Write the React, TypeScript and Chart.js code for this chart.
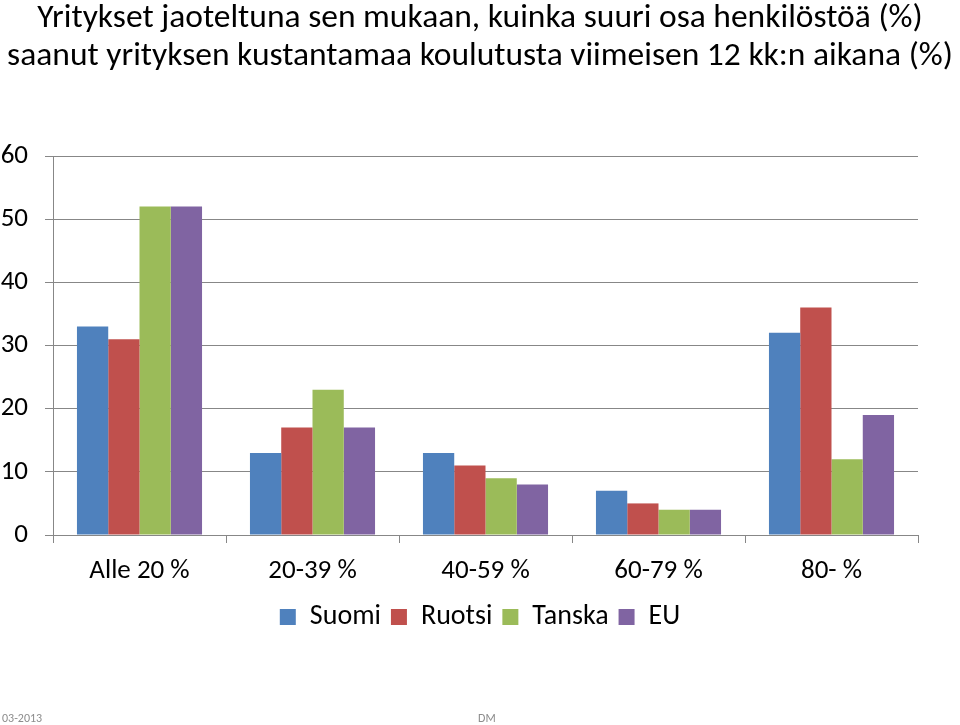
import React, { useEffect, useRef } from "react";
import { Chart, registerables } from "chart.js";

Chart.register(...registerables);

const titleLines = [
  "Yritykset jaoteltuna sen mukaan, kuinka suuri osa henkilöstöä (%)",
  "saanut yrityksen kustantamaa koulutusta viimeisen 12 kk:n aikana (%)",
];
const categories = ["Alle 20 %", "20-39 %", "40-59 %", "60-79 %", "80- %"];
const seriesNames = ["Suomi", "Ruotsi", "Tanska", "EU"];
const suomi = [33, 13, 13, 7, 32];
const ruotsi = [31, 17, 11, 5, 36];
const tanska = [52, 23, 9, 4, 12];
const eu = [52, 17, 8, 4, 19];
const seriesColors = ["#4F81BD", "#C0504D", "#9BBB59", "#8064A2"];
const yMin = 0;
const yMax = 60;
const yStep = 10;
const footerLeft = "03-2013";
const footerCenter = "DM";

const FONT = "Carlito, Calibri, Lato, sans-serif";
const GRID = "#878787";
const TITLE_SIZE = 33.5;
const TITLE_LH = 38;

export default function App() {
  const ref = useRef<HTMLCanvasElement | null>(null);

  useEffect(() => {
    if (!ref.current) return;
    const values = [suomi, ruotsi, tanska, eu];
    const chart = new Chart(ref.current, {
      type: "bar",
      data: {
        labels: categories,
        datasets: seriesNames.map((name, i) => ({
          label: name,
          data: values[i],
          backgroundColor: seriesColors[i],
          borderWidth: 0,
          categoryPercentage: 0.723,
          barPercentage: 1,
        })),
      },
      options: {
        animation: false,
        responsive: false,
        maintainAspectRatio: false,
        layout: { padding: { top: 0, left: 0, right: 0, bottom: 84 } },
        plugins: {
          title: {
            display: true,
            text: titleLines,
            color: "#000",
            font: { family: FONT, size: TITLE_SIZE, weight: "normal", lineHeight: TITLE_LH / TITLE_SIZE },
            padding: { top: 0, bottom: 156 - 2 * TITLE_LH },
          },
          legend: {
            display: true,
            position: "bottom",
            labels: {
              color: "#000",
              font: { family: FONT, size: 28 },
              boxWidth: 16,
              boxHeight: 16,
              padding: 10,
            },
          },
          tooltip: { enabled: false },
        },
        scales: {
          x: {
            grid: {
              display: true,
              drawOnChartArea: false,
              drawTicks: true,
              tickLength: 8,
              color: GRID,
              offset: true,
            },
            border: { display: true, color: GRID, width: 1 },
            ticks: {
              color: "#000",
              font: { family: FONT, size: 27 },
              padding: 12,
              maxRotation: 0,
            },
            afterFit: (s: any) => {
              s.height = 58;
            },
          },
          y: {
            min: yMin,
            max: yMax,
            grid: { color: GRID, tickLength: 8, lineWidth: 1 },
            border: { display: true, color: GRID, width: 1 },
            ticks: {
              stepSize: yStep,
              color: "#000",
              font: { family: FONT, size: 27 },
              padding: 17,
            },
            afterFit: (s: any) => {
              s.width = 53;
            },
          },
          y2: {
            position: "right",
            display: true,
            grid: { display: false, drawOnChartArea: false },
            border: { display: false },
            ticks: { display: false },
            afterFit: (s: any) => {
              s.width = 42;
            },
          },
        },
      },
    } as any);
    return () => chart.destroy();
  }, []);

  const footStyle: React.CSSProperties = {
    position: "absolute",
    top: 711,
    fontFamily: FONT,
    fontSize: 12,
    color: "#8c8c8c",
    lineHeight: "14px",
  };

  return (
    <div style={{ position: "fixed", left: 0, top: 0, width: 960, height: 725, background: "#fff" }}>
      <canvas ref={ref} width={960} height={725} style={{ position: "absolute", left: 0, top: 0, width: 960, height: 725 }} />
      <span style={{ ...footStyle, left: 2 }}>{footerLeft}</span>
      <span style={{ ...footStyle, left: 478 }}>{footerCenter}</span>
    </div>
  );
}
